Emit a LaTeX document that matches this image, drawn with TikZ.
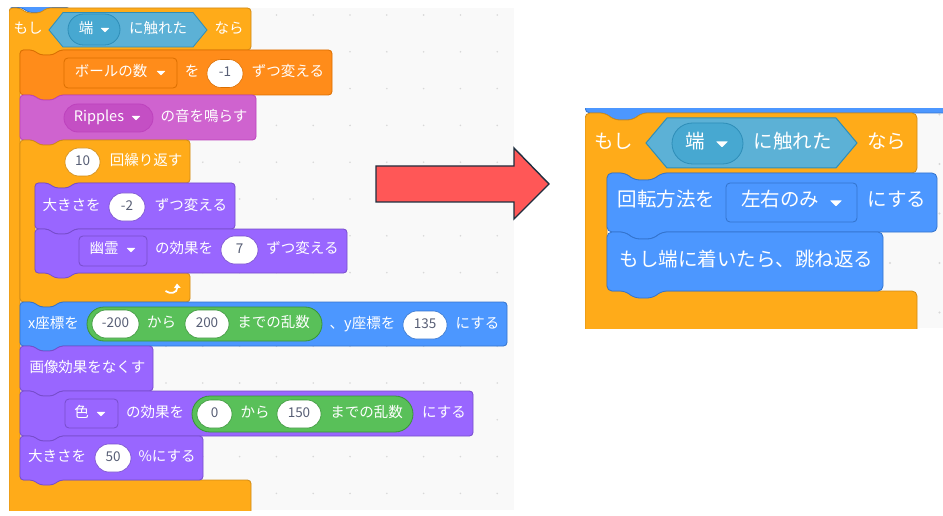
\documentclass[tikz,border=0pt]{standalone}
\usepackage{fontspec}
\setmainfont{Noto Sans CJK JP}
\usetikzlibrary{shapes.misc,arrows.meta}
\definecolor{ctrl}{HTML}{FFAB19}
\definecolor{ctrlB}{HTML}{CF8B17}
\definecolor{sens}{HTML}{5CB1D6}
\definecolor{sensB}{HTML}{2E8EB8}
\definecolor{sensD}{HTML}{47A8D1}
\definecolor{vari}{HTML}{FF8C1A}
\definecolor{variB}{HTML}{DB6E00}
\definecolor{snd}{HTML}{CF63CF}
\definecolor{sndB}{HTML}{BD42BD}
\definecolor{sndD}{HTML}{C44FC4}
\definecolor{look}{HTML}{9966FF}
\definecolor{lookB}{HTML}{774DCB}
\definecolor{mot}{HTML}{4C97FF}
\definecolor{motB}{HTML}{3373CC}
\definecolor{oper}{HTML}{59C059}
\definecolor{operB}{HTML}{389438}
\definecolor{numtxt}{HTML}{575E75}
\definecolor{canvas}{HTML}{F9F9F9}
\definecolor{griddot}{HTML}{D8D8D8}
\definecolor{arrowred}{HTML}{FF5757}
\definecolor{arrowB}{HTML}{1F2F3F}
\def\na{13}\def\nd{7}\def\nh{5}\def\nf{13}\def\nao{11}\def\rc{3.5}
\newcommand\stk[5]{\path[#1,rounded corners=\rc] (#2,#3) -- ({#2+\na},#3) -- ({#2+\na+\nd},{#3+\nh}) -- ({#2+\na+\nd+\nf},{#3+\nh}) -- ({#2+\na+2*\nd+\nf},#3) -- (#4,#3) -- (#4,#5) -- ({#2+\na+2*\nd+\nf},#5) -- ({#2+\na+\nd+\nf},{#5+\nh}) -- ({#2+\na+\nd},{#5+\nh}) -- ({#2+\na},#5) -- (#2,#5) -- cycle;}
\newcommand\cblk[9]{\path[#1,rounded corners=\rc] (#2,#3) -- ({#2+\nao},#3) -- ({#2+\nao+\nd},{#3+\nh}) -- ({#2+\nao+\nd+\nf},{#3+\nh}) -- ({#2+\nao+2*\nd+\nf},#3) -- (#4,#3) -- (#4,#5) -- ({#6+\na+2*\nd+\nf},#5) -- ({#6+\na+\nd+\nf},{#5+\nh}) -- ({#6+\na+\nd},{#5+\nh}) -- ({#6+\na},#5) -- (#6,#5) -- (#6,#7) -- (#8,#7) -- (#8,#9) -- ({#2+\na+2*\nd+\nf},#9) -- ({#2+\na+\nd+\nf},{#9+\nh}) -- ({#2+\na+\nd},{#9+\nh}) -- ({#2+\na},#9) -- (#2,#9) -- cycle;}
\newcommand\tri[3]{\fill[white,rounded corners=0.6] ({#1-#3},{#2-#3*0.45}) -- ({#1+#3},{#2-#3*0.45}) -- (#1,{#2+#3*0.55}) -- cycle;}
\tikzset{
 blk/.style={fill=#1,draw=#1B,line width=0.8},
 lbl/.style={text=white,inner sep=0,text height=0.86em,text depth=0.14em,font=\fontsize{14.5}{17}\selectfont},
 lblR/.style={lbl,font=\fontsize{19.5}{23}\selectfont},
 numin/.style={shape=rounded rectangle,fill=white,draw=#1,line width=0.6,inner sep=0,minimum height=28,text=numtxt,text height=0.85em,text depth=0.15em,font=\fontsize{13.5}{16}\selectfont},
 ddrect/.style={draw=#1,line width=0.8,rounded corners=4,inner sep=0},
 ddoval/.style={shape=rounded rectangle,fill=#1D,draw=#1B,line width=0.8,inner sep=0},
 pill/.style={shape=rounded rectangle,fill=oper,draw=operB,line width=0.8,inner sep=0},
}
\begin{document}
\begin{tikzpicture}[x=1pt,y=-1pt]
\useasboundingbox (0,0) rectangle (943,516);
\fill[white] (0,0) rectangle (943,516);
% ---------------- left panel ----------------
\begin{scope}
\clip (9,8) rectangle (514,510);
\fill[canvas] (9,8) rectangle (514,510);
\foreach \i in {-4,...,9} \foreach \j in {-10,...,3}
  \fill[griddot] ({166+36.8*\i},{383+36.8*\j}) circle (0.9);
\stk{blk=mot}{9}{-30}{70}{7.6}
\cblk{blk=ctrl}{9}{8}{251}{50}{20}{480}{251}{516}
\path[fill=sens,draw=sensB,line width=0.8] (49,30) -- (63,12.5) -- (193,12.5) -- (207,30) -- (193,47) -- (63,47) -- cycle;
\node[ddoval=sens,minimum width=52,minimum height=31] (d1) at (94,29.5) {};
\node[lbl] (t1) at (28,30) {もし};
\node[lbl] (t2) at (229,30) {なら};
\node[lbl] (t3) at (86,30) {端};
\tri{105}{30}{4.5}
\node[lbl] (t4) at (158,30) {に触れた};
% change variable
\stk{blk=vari}{20}{50}{332}{95}
\node[ddrect=variB,minimum width=113,minimum height=30] (d2) at (120.5,73) {};
\node[lbl] (t5) at (111,73) {ボールの数};
\tri{161}{73}{4.5}
\node[lbl] (t6) at (192,73) {を};
\node[numin=variB,minimum width=36] (n1) at (225,73.5) {-1};
\node[lbl] (t7) at (288,73) {ずつ変える};
% sound
\stk{blk=snd}{20}{95}{256}{140}
\node[ddoval=snd,minimum width=89,minimum height=28] (d3) at (108.5,118) {};
\node[lbl] (t8) at (99,118) {Ripples};
\tri{136}{118}{4.5}
\node[lbl] (t9) at (204,118) {の音を鳴らす};
% repeat
\def\nao{13}
\cblk{blk=ctrl}{20}{140}{190}{183}{35}{273}{190}{302}
\node[numin=ctrlB,minimum width=35] (n2) at (82.5,162) {10};
\node[lbl] (t10) at (146,162) {回繰り返す};
\draw[white,line width=1.8,-{Triangle[width=6.5,length=4.5]}] (165.5,291) .. controls (170,294.5) and (177.5,293) .. (177,283.5);
\stk{blk=look}{35}{183}{235}{229}
\node[lbl] (t11) at (71.5,207) {大きさを};
\node[numin=lookB,minimum width=36] (n3) at (127,207) {-2};
\node[lbl] (t12) at (191,207) {ずつ変える};
\stk{blk=look}{35}{229}{347}{273}
\node[ddrect=lookB,minimum width=68,minimum height=30] (d4) at (113,251) {};
\node[lbl] (t13) at (104,250) {幽霊};
\tri{131}{250}{4.5}
\node[lbl] (t14) at (184,250) {の効果を};
\node[numin=lookB,minimum width=37] (n4) at (239.5,250) {7};
\node[lbl] (t15) at (302.5,250) {ずつ変える};
% go to xy
\stk{blk=mot}{20}{302}{507}{346}
\node[lbl] (t16) at (53.5,325) {x座標を};
\node[pill,minimum width=235,minimum height=34] (g1) at (204.5,324) {};
\node[numin=operB,minimum width=47] (n5) at (115.5,324) {-200};
\node[lbl] (t17) at (161.5,324) {から};
\node[numin=operB,minimum width=44] (n6) at (207,324) {200};
\node[lbl] (t18) at (273.5,324) {までの乱数};
\node[lbl] (t19) at (362.5,325) {、y座標を};
\node[numin=motB,minimum width=44] (n7) at (425,325) {135};
\node[lbl] (t20) at (477.5,325) {にする};
% clear effects
\stk{blk=look}{20}{346}{153}{391}
\node[lbl] (t21) at (87.5,369) {画像効果をなくす};
% set color effect
\stk{blk=look}{20}{391}{473}{436}
\node[ddrect=lookB,minimum width=53,minimum height=29] (d5) at (91.5,413.5) {};
\node[lbl] (t22) at (81.5,414) {色};
\tri{101}{414}{4.5}
\node[lbl] (t23) at (155,414) {の効果を};
\node[pill,minimum width=221,minimum height=36] (g2) at (302.5,414) {};
\node[numin=operB,minimum width=35] (n8) at (214.5,414) {0};
\node[lbl] (t24) at (255,414) {から};
\node[numin=operB,minimum width=44] (n9) at (299,414) {150};
\node[lbl] (t25) at (366.5,414) {までの乱数};
\node[lbl] (t26) at (444,414) {にする};
% set size
\stk{blk=look}{20}{436}{203}{480}
\node[lbl] (t27) at (57,458) {大きさを};
\node[numin=lookB,minimum width=36] (n10) at (113,458) {50};
\node[lbl] (t28) at (167,458) {\%にする};
\end{scope}
% ---------------- arrow ----------------
\path[fill=arrowred,draw=arrowB,line width=1.4,line join=miter] (376,166) -- (514,166) -- (514,148) -- (549,184) -- (514,219) -- (514,202) -- (376,202) -- cycle;
% ---------------- right panel ----------------
\begin{scope}
\clip (585,109) rectangle (943,328);
\fill[canvas] (585,109) rectangle (943,328);
\foreach \i in {-6,...,1} \foreach \j in {-3,...,1}
  \fill[griddot] ({890+49.5*\i},{263+49.5*\j}) circle (1.1);
\def\na{20}\def\nd{9.5}\def\nh{7}\def\nf{18}\def\nao{20}\def\rc{5}
\stk{blk=mot}{585}{40}{960}{113}
\def\na{18}
\cblk{blk=ctrl}{585}{113}{917}{173}{607}{291}{917}{345}
\path[fill=sens,draw=sensB,line width=1] (646,143) -- (667,118) -- (836,118) -- (857,143) -- (836,168) -- (667,168) -- cycle;
\node[ddoval=sens,minimum width=71,minimum height=41] (d6) at (707.5,143.5) {};
\node[lblR] (t29) at (613.5,145) {もし};
\node[lblR] (t30) at (886.5,145) {なら};
\node[lblR] (t31) at (695,145) {端};
\tri{722}{144}{6}
\node[lblR] (t32) at (792.5,145) {に触れた};
\stk{blk=mot}{607}{173}{937}{232}
\node[lblR] (t33) at (666.5,203) {回転方法を};
\node[ddrect=motB,minimum width=131,minimum height=39] (d7) at (791.5,202.5) {};
\node[lblR] (t34) at (780,203) {左右のみ};
\tri{836}{203}{6}
\node[lblR] (t35) at (897,203) {にする};
\stk{blk=mot}{607}{232}{883}{291}
\node[lblR] (t36) at (746.5,263) {もし端に着いたら、跳ね返る};
\end{scope}
\end{tikzpicture}
\end{document}
